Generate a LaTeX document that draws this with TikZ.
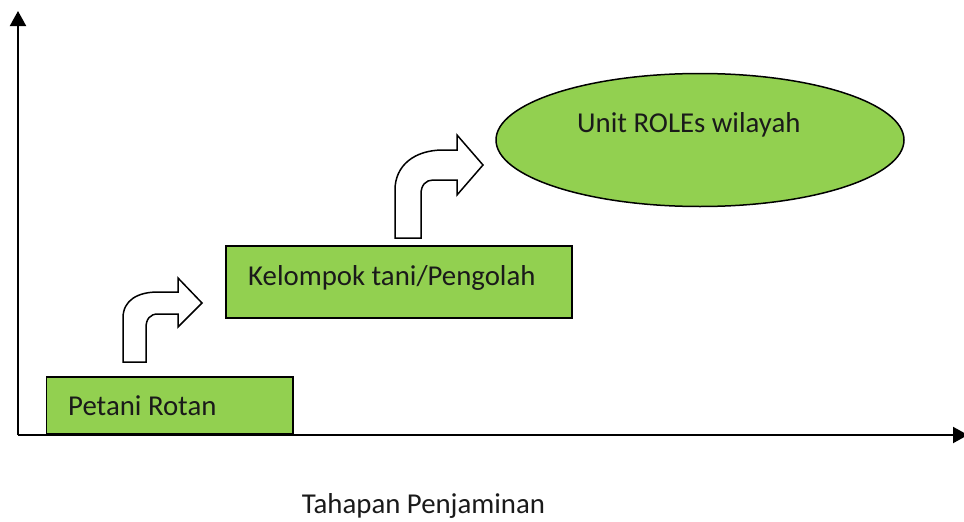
\documentclass[tikz,border=0pt]{standalone}
\usepackage{fontspec}
\setmainfont{Carlito}
\usetikzlibrary{shapes.geometric,arrows.meta}
\definecolor{lgreen}{HTML}{92D050}
\definecolor{txt}{HTML}{1A1A1A}
\tikzset{
  box/.style={draw=black, line width=1.5pt, fill=lgreen, rectangle, inner sep=0pt},
  oval/.style={draw=black, line width=1.5pt, fill=lgreen, ellipse, inner sep=0pt},
  lbl/.style={inner sep=0pt, anchor=base west, text=txt, font=\fontsize{28.8}{34}\selectfont},
  axis/.style={line width=2pt, -{Triangle[width=16pt,length=15pt]}},
  bent/.style={draw=black, line width=1.5pt, fill=white, line join=miter}
}
\begin{document}
\begin{tikzpicture}[x=1pt,y=-1pt]
\useasboundingbox (0,0) rectangle (964,522);
% axes
\coordinate (o) at (18,435);
\coordinate (ytop) at (18,11);
\coordinate (xend) at (968,435);
\draw[axis] (o) -- (ytop);
\draw[axis] (o) -- (xend);
% boxes
\node[box, minimum width=246.5pt, minimum height=57pt] (b1) at (169.75,405.5) {};
\node[box, minimum width=346pt, minimum height=72pt] (b2) at (399,282) {};
\node[oval, minimum width=408pt, minimum height=133pt] (e1) at (700,140) {};
% texts
\node[lbl] (t1) at (68,415) {Petani Rotan};
\node[lbl] (t2) at (248,285.7) {Kelompok tani/Pengolah};
\node[lbl] (t3) at (577,132) {Unit ROLEs wilayah};
\node[lbl] (t4) at (301.7,513) {Tahapan Penjaminan};
% bent arrow 1
\draw[bent] (123,362) -- (123,318) .. controls (123,300) and (138,292) .. (158,292)
  -- (178,292) -- (178,278) -- (202,303) -- (178,327) -- (178,314) -- (158,314)
  .. controls (150,314) and (146,319) .. (146,328) -- (146,362) -- cycle;
% bent arrow 2
\draw[bent] (395,238) -- (395,190) .. controls (395,165) and (415,150) .. (443,150)
  -- (457,150) -- (457,135) -- (483,165) -- (457,195) -- (457,180) -- (433,180)
  .. controls (426,180) and (421,185) .. (421,194) -- (421,238) -- cycle;
\end{tikzpicture}
\end{document}
